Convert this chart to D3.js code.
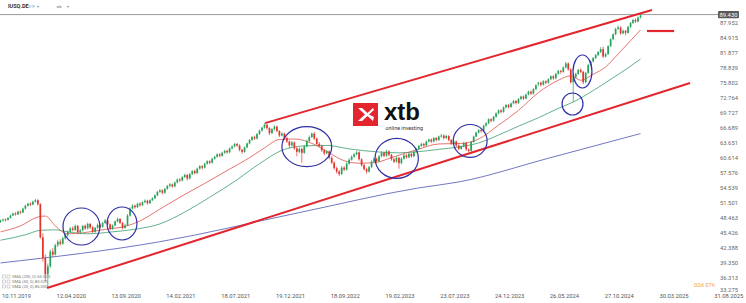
<!DOCTYPE html>
<html>
<head>
<meta charset="utf-8">
<script src="https://cdn.jsdelivr.net/npm/d3@7"></script>
<style>
html, body { margin: 0; padding: 0; background: #fff; }
svg { display: block; font-family: Roboto, "Liberation Sans", sans-serif; }
</style>
</head>
<body>
<svg id="chart" width="746" height="303"></svg>
<script>
// weekly candles [open, high, low, close]
var candles2019 = [
  [47.6,48.1,47.4,47.9],[47.9,48.3,47.7,48.1],[48.1,48.3,47.7,48.0],[48.0,48.6,47.9,48.4],
  [48.4,49.1,48.3,48.9],[48.9,49.5,48.8,49.3],[49.3,49.6,48.9,49.1],[49.1,49.9,49.0,49.7],
  [49.7,49.9,49.2,49.5]
];
var candles2020 = [
  [49.5,50.5,49.4,50.3],[50.3,51.1,50.1,50.9],[50.9,51.5,50.7,51.3],[51.3,51.6,50.8,51.1],
  [51.1,51.9,51.0,51.7],[51.7,52.3,51.5,52.0],[52.0,52.2,50.9,51.2],[51.2,51.4,44.2,44.5],
  [44.5,45.3,39.6,40.3],[40.3,41.0,35.6,37.0],[37.0,39.2,34.4,38.6],[38.6,42.0,38.3,41.6],
  [41.6,42.3,40.5,41.0],[41.0,43.2,40.8,42.9],[42.9,44.0,42.5,43.6],[43.6,44.1,42.8,43.2],
  [43.2,44.6,43.0,44.3],[44.3,45.2,44.0,44.9],[44.9,45.9,44.6,45.6],[45.6,46.6,45.4,46.3],
  [46.3,46.7,45.7,46.0],[46.0,47.1,45.8,46.8],[46.8,47.0,45.2,45.5],[45.5,46.2,45.1,45.9],
  [45.9,47.0,45.7,46.8],[46.8,47.1,46.0,46.3],[46.3,47.5,46.1,47.2],[47.2,47.4,46.2,46.5],
  [46.5,46.8,45.3,45.6],[45.6,46.6,45.4,46.4],[46.4,47.3,46.2,47.0],[47.0,47.2,46.3,46.6],
  [46.6,47.6,46.4,47.4],[47.4,48.2,47.2,47.9],[47.9,48.1,46.9,47.1],[47.1,47.3,45.9,46.2],
  [46.2,47.1,46.0,46.9],[46.9,47.9,46.7,47.7],[47.7,48.5,47.5,48.2],[48.2,48.4,47.2,47.4],
  [47.4,47.6,46.1,46.4],[46.4,47.2,46.2,46.9],[46.9,49.2,46.8,48.9],[48.9,50.6,48.7,50.3],
  [50.3,51.2,50.1,50.9],[50.9,51.1,50.3,50.6],[50.6,51.5,50.4,51.3],[51.3,51.6,50.7,51.0],
  [51.0,51.8,50.8,51.6],[51.6,52.2,51.4,51.9],[51.9,52.1,51.1,51.4],[51.4,52.2,51.2,52.0]
];
var candles2021 = [
  [52.0,52.6,51.8,52.4],[52.4,53.2,52.2,53.0],[53.0,53.9,52.8,53.7],[53.7,54.3,53.5,54.0],
  [54.0,54.2,53.2,53.5],[53.5,54.5,53.3,54.3],[54.3,55.1,54.1,54.9],[54.9,55.5,54.6,55.2],
  [55.2,55.4,54.5,54.8],[54.8,55.8,54.6,55.6],[55.6,56.4,55.4,56.2],[56.2,56.5,55.7,56.0],
  [56.0,56.9,55.8,56.7],[56.7,57.4,56.5,57.1],[57.1,57.3,56.0,56.4],[56.4,57.5,56.2,57.3],
  [57.3,58.1,57.1,57.9],[57.9,58.2,57.2,57.5],[57.5,58.6,57.3,58.4],[58.4,59.1,58.2,58.9],
  [58.9,59.1,58.2,58.6],[58.6,59.6,58.4,59.4],[59.4,60.1,59.2,59.9],[59.9,60.1,59.3,59.6],
  [59.6,60.6,59.4,60.4],[60.4,61.0,60.2,60.8],[60.8,61.5,60.6,61.3],[61.3,61.5,60.7,61.0],
  [61.0,61.8,60.8,61.6],[61.6,62.2,61.4,62.0],[62.0,62.2,61.4,61.7],[61.7,62.7,61.5,62.5],
  [62.5,63.1,62.3,62.9],[62.9,63.6,62.7,63.4],[63.4,63.6,62.8,63.1],[63.1,63.3,61.9,62.2],
  [62.2,62.4,61.4,61.8],[61.8,62.9,61.6,62.7],[62.7,63.7,62.5,63.5],[63.5,64.4,63.3,64.2],
  [64.2,65.0,64.0,64.8],[64.8,65.1,64.2,64.5],[64.5,65.6,64.3,65.4],[65.4,66.3,65.2,66.1],
  [66.1,66.9,65.9,66.7],[66.7,67.6,66.5,67.3],[67.3,67.5,66.3,66.6],[66.6,66.8,65.2,65.6],
  [65.6,66.6,65.4,66.4],[66.4,67.2,66.1,66.9],[66.9,67.1,65.8,66.0],[66.0,66.2,64.8,65.1]
];
var candles2022 = [
  [65.1,65.8,64.9,65.5],[65.5,65.7,64.3,64.6],[64.6,64.9,63.6,63.9],[63.9,64.1,62.6,63.1],
  [63.1,64.0,62.9,63.7],[63.7,63.9,62.2,62.5],[62.5,62.8,60.9,61.8],[61.8,62.7,61.5,62.4],
  [62.4,62.6,59.6,61.6],[61.6,63.2,61.4,62.9],[62.9,64.3,62.7,64.0],[64.0,65.1,63.8,64.8],
  [64.8,65.7,64.6,65.5],[65.5,65.8,64.2,64.5],[64.5,64.7,63.1,63.4],[63.4,63.8,62.7,63.0],
  [63.0,63.2,61.8,62.1],[62.1,62.4,61.1,61.5],[61.5,62.2,61.3,61.9],[61.9,62.1,60.3,60.6],
  [60.6,60.9,59.3,59.6],[59.6,59.9,58.2,58.5],[58.5,58.8,57.4,57.8],[57.8,58.1,56.9,57.3],
  [57.3,58.9,57.1,58.6],[58.6,58.9,57.9,58.2],[58.2,59.7,58.0,59.4],[59.4,60.5,59.2,60.2],
  [60.2,61.1,60.0,60.8],[60.8,61.6,60.6,61.3],[61.3,62.0,61.1,61.7],[61.7,61.9,60.0,60.3],
  [60.3,60.5,58.8,59.1],[59.1,59.4,58.0,58.3],[58.3,58.6,57.4,57.8],[57.8,59.0,57.6,58.7],
  [58.7,60.1,58.5,59.8],[59.8,60.7,59.6,60.4],[60.4,60.6,59.6,59.9],[59.9,61.2,59.7,60.9],
  [60.9,61.9,60.7,61.6],[61.6,61.8,60.7,61.0],[61.0,62.2,60.8,61.9],[61.9,62.1,60.9,61.2],
  [61.2,61.4,60.0,60.3],[60.3,60.6,59.5,59.8],[59.8,60.9,59.6,60.6],[60.6,60.8,58.4,59.5],
  [59.5,60.7,59.3,60.4],[60.4,61.4,60.2,61.1],[61.1,61.3,60.4,60.7],[60.7,61.7,60.5,61.4]
];
var candles2023 = [
  [61.4,61.6,60.6,60.9],[60.9,62.0,60.7,61.8],[61.8,62.6,61.6,62.4],[62.4,63.2,62.2,63.0],
  [63.0,63.6,62.8,63.4],[63.4,63.6,62.8,63.1],[63.1,64.1,62.9,63.9],[63.9,64.5,63.7,64.3],
  [64.3,64.5,63.6,63.9],[63.9,64.8,63.7,64.6],[64.6,64.8,63.9,64.2],[64.2,65.1,64.0,64.9],
  [64.9,65.4,64.7,65.1],[65.1,65.3,64.3,64.6],[64.6,65.3,64.4,65.0],[65.0,65.2,63.9,64.2],
  [64.2,64.4,63.2,63.5],[63.5,64.1,63.3,63.9],[63.9,64.1,62.8,63.1],[63.1,63.3,62.1,62.4],
  [62.4,63.1,62.2,62.9],[62.9,63.8,62.7,63.6],[63.6,63.8,62.0,62.3],[62.3,62.5,61.7,62.0],
  [62.0,64.0,61.8,63.8],[63.8,65.1,63.6,64.9],[64.9,65.9,64.7,65.7],[65.7,66.4,65.5,66.2],
  [66.2,66.4,65.7,66.0],[66.0,67.3,65.8,67.1],[67.1,67.8,66.9,67.6],[67.6,68.6,67.4,68.4],
  [68.4,68.6,67.8,68.1],[68.1,69.1,67.9,68.9],[68.9,69.8,68.7,69.6],[69.6,70.4,69.4,70.2],
  [70.2,70.4,69.6,69.9],[69.9,71.0,69.7,70.8],[70.8,71.5,70.6,71.3],[71.3,71.5,70.6,70.9],
  [70.9,71.8,70.7,71.6],[71.6,72.3,71.4,72.1],[72.1,72.3,71.4,71.7],[71.7,72.7,71.5,72.5],
  [72.5,73.2,72.3,73.0],[73.0,73.2,72.3,72.6],[72.6,73.6,72.4,73.4],[73.4,74.2,73.2,74.0],
  [74.0,74.2,73.3,73.6],[73.6,74.7,73.4,74.5],[74.5,75.5,74.3,75.3],[75.5,76.0,75.1,75.8]
];
var candles2024 = [
  [75.8,76.0,75.0,75.4],[75.4,76.3,75.2,76.1],[76.1,76.3,75.5,75.8],[75.8,76.7,75.6,76.5],
  [76.5,77.3,76.3,77.1],[77.1,77.3,76.4,76.7],[76.7,77.8,76.5,77.6],[77.6,78.4,77.4,78.2],
  [78.2,78.4,77.6,78.0],[78.0,79.1,77.8,78.9],[78.9,80.0,78.7,79.7],[79.7,79.9,78.2,78.5],
  [78.5,78.7,75.6,75.9],[75.9,77.1,71.9,76.9],[76.9,77.8,76.6,77.6],[77.6,78.6,77.4,78.4],
  [78.4,78.7,77.7,78.0],[78.0,78.2,75.5,75.9],[75.9,78.0,75.7,77.8],[77.8,79.6,77.6,79.4],
  [79.4,80.3,79.2,80.1],[80.1,81.0,79.9,80.8],[80.8,81.6,80.6,81.4],[81.4,82.2,81.2,82.0],
  [82.0,83.0,81.8,82.6],[82.6,83.1,80.8,81.1],[81.1,81.9,80.9,81.6],[81.6,83.4,81.4,83.2],
  [83.2,84.8,83.0,84.6],[84.6,85.8,84.4,85.6],[85.6,86.9,85.4,86.7],[86.7,87.4,86.5,87.0],
  [87.0,87.2,85.5,85.8],[85.8,86.6,85.6,86.3],[86.3,86.5,85.4,85.9],[85.9,87.3,85.7,87.1],
  [87.1,88.1,86.9,87.9],[87.9,88.7,87.7,88.5],[88.5,88.8,87.9,88.2],[88.2,89.2,88.0,89.0],
  [89.0,89.8,88.8,89.43]
];

// moving averages [bar index, value]
var smaFast = [[0,45.6],[8,46.8],[15,48.6],[18,48.8],[22,46.8],[27,45.2],[33,45.4],[42,46.1],[50,46.7],
  [56,47.8],[64,50.2],[72,52.6],[82,55.4],[92,58.3],[100,60.6],[106,62.6],[112,64.3],[118,64.4],
  [126,63.3],[132,61.6],[138,60.0],[144,59.5],[150,59.6],[158,60.8],[167,62.2],[176,63.4],
  [185,63.5],[192,64.4],[200,67.2],[208,70.2],[216,73.8],[224,76.3],[229,77.2],[233,76.3],
  [238,77.5],[243,79.0],[248,81.6],[253,84.3],[257,86.5]];
var smaMid = [[0,43.9],[10,45.0],[16,45.9],[22,46.0],[27,45.6],[35,45.2],[45,45.6],[55,46.2],
  [64,47.2],[74,49.6],[84,52.6],[94,55.8],[104,59.4],[113,62.1],[122,63.0],[131,63.1],[140,62.4],
  [151,61.8],[160,61.6],[167,61.8],[176,62.3],[184,62.8],[192,63.6],[200,65.2],[208,67.0],
  [216,68.7],[224,70.6],[230,71.9],[238,74.2],[246,76.8],[252,78.8],[257,80.6]];
var smaSlow = [[0,39.3],[64,43.6],[120,49.5],[168,54.5],[184,55.7],[220,60.5],[257,65.5]];

var yTicks = [87.952,84.915,81.877,78.839,75.802,72.764,69.727,66.689,63.651,60.614,57.576,
  54.539,51.501,48.463,45.426,42.388,39.350,36.313,33.275];
var dateLabels = ["10.11.2019","12.04.2020","13.09.2020","14.02.2021","18.07.2021","19.12.2021",
  "18.09.2022","19.02.2023","23.07.2023","24.12.2023","26.05.2024","27.10.2024","30.03.2025","31.08.2025"];
var lastPrice = 89.430;

// drawn annotations, in [bar, price] units
var channelUpper = [[106.2,67.62],[261.6,90.52]];
var channelLower = [[18.7,34.23],[276.9,75.74]];
var targetLine = [[259.6,86.27],[270.5,86.27]];
var circles = [[32.5,46.68,7.4,3.75],[48.8,47.29,6.0,3.34],[123,62.84,10,4.05],[159.1,60.49,8.7,4.05],
  [188.6,64.0,6.8,3.34],[233.7,78.07,3.8,3.34],[229.7,71.49,4.2,2.23]];
var legendRows = ["SMA (200, 0) 65.520","SMA (50, 0) 80.520","SMA (20, 0) 86.000"];

var candles = [].concat(candles2019, candles2020, candles2021, candles2022, candles2023, candles2024);

var svg = d3.select("#chart");
var x = d3.scaleLinear().domain([0, candles.length - 1]).range([0.5, 640.5]);
var y = d3.scaleLinear().domain([33.275, 87.952]).range([292.7, 22.7]);
var step = x(1) - x(0);

var up = "#27a35a", down = "#e2342d";

// header
svg.append("text").attr("x", 8).attr("y", 8).attr("font-size", 5.5).attr("font-weight", "bold")
  .attr("fill", "#333").text("IUSQ.DE");
svg.append("text").attr("x", 29).attr("y", 8).attr("font-size", 3.5).attr("fill", "#999").text("ETF");
svg.append("text").attr("x", 37).attr("y", 8).attr("font-size", 4).attr("fill", "#888").text("▾");
svg.append("text").attr("x", 56.5).attr("y", 8).attr("font-size", 4).attr("fill", "#666").text("wk");
svg.append("text").attr("x", 66.5).attr("y", 8).attr("font-size", 4).attr("fill", "#888").text("▾");

// last price line
svg.append("line").attr("x1", 0).attr("x2", 718).attr("y1", y(lastPrice) - 0.8).attr("y2", y(lastPrice) - 0.8)
  .attr("stroke", "#9a9a9a").attr("stroke-width", 1);

// y axis labels (lowest one nudged up above the date row, as in the reference)
svg.selectAll(".ytick").data(yTicks).enter().append("text")
  .attr("class", "ytick")
  .attr("x", 729).attr("y", function(d, i) { return y(d) + 2 - (i === yTicks.length - 1 ? 2.6 : 0); })
  .attr("text-anchor", "middle").attr("font-size", 5.8).attr("fill", "#666")
  .text(function(d) { return d3.format(".3f")(d); });

svg.append("rect").attr("x", 718).attr("y", y(lastPrice) - 4.4).attr("width", 21).attr("height", 7.2)
  .attr("rx", 1).attr("fill", "#5a5a5a");
svg.append("text").attr("x", 728.5).attr("y", y(lastPrice) + 1.2).attr("text-anchor", "middle")
  .attr("font-size", 5.8).attr("fill", "#fff").text(d3.format(".3f")(lastPrice));
svg.append("text").attr("x", 715).attr("y", 286.8).attr("text-anchor", "end")
  .attr("font-size", 5.8).attr("fill", "#f0a23c").text("02d 07h");

// date labels every 22 bars
svg.selectAll(".xtick").data(dateLabels).enter().append("text")
  .attr("class", "xtick")
  .attr("x", function(d, i) { return x(i * 22) + 1.5; }).attr("y", 297.8)
  .attr("font-size", 5.8).attr("fill", "#555")
  .text(function(d) { return d; });

// legend
var legend = svg.append("g").attr("font-size", 4.2).attr("fill", "#777");
legendRows.forEach(function(t, i) {
  var ly = 278 + i * 5;
  legend.append("rect").attr("x", 2.5).attr("y", ly - 3).attr("width", 3).attr("height", 3)
    .attr("fill", "none").attr("stroke", "#999").attr("stroke-width", 0.4);
  legend.append("rect").attr("x", 7).attr("y", ly - 3).attr("width", 3).attr("height", 3)
    .attr("fill", "none").attr("stroke", "#999").attr("stroke-width", 0.4);
  legend.append("text").attr("x", 12).attr("y", ly).text(t);
});

// xtb logo
var logo = svg.append("g");
logo.append("rect").attr("x", 353).attr("y", 103).attr("width", 25).attr("height", 23).attr("fill", "#e3262d");
logo.append("path").attr("d", "M358,108 L365,114.5 L358,121 L362,121 L367.5,116 L373,121 L374,117 L369,114.5 L374,110 L373,108 L367.5,113 L362,108 Z")
  .attr("fill", "#fff");
logo.append("text").attr("x", 384).attr("y", 120).attr("font-size", 24).attr("font-weight", "bold")
  .attr("font-family", "'Liberation Sans', Arial, sans-serif").attr("fill", "#111").text("xtb");
logo.append("text").attr("x", 385.5).attr("y", 129.5).attr("font-size", 5.4)
  .attr("fill", "#333").text("online investing");

// moving averages
var line = d3.line().x(function(d) { return x(d[0]); }).y(function(d) { return y(d[1]); })
  .curve(d3.curveMonotoneX);
[[smaSlow, "#4d55b0"], [smaMid, "#3a9d6e"], [smaFast, "#e0524b"]].forEach(function(s) {
  svg.append("path").attr("d", line(s[0])).attr("fill", "none")
    .attr("stroke", s[1]).attr("stroke-width", 0.8);
});

// candles
var c = svg.append("g").selectAll("g").data(candles).enter().append("g");
c.append("line")
  .attr("x1", function(d, i) { return x(i); }).attr("x2", function(d, i) { return x(i); })
  .attr("y1", function(d) { return y(d[1]); }).attr("y2", function(d) { return y(d[2]); })
  .attr("stroke", function(d) { return d[3] >= d[0] ? up : down; }).attr("stroke-width", 0.7);
c.append("rect")
  .attr("x", function(d, i) { return x(i) - 0.85; }).attr("width", 1.7)
  .attr("y", function(d) { return y(Math.max(d[0], d[3])); })
  .attr("height", function(d) { return Math.max(0.8, Math.abs(y(d[0]) - y(d[3]))); })
  .attr("fill", function(d) { return d[3] >= d[0] ? up : down; });

// channel and target
var straight = d3.line().x(function(d) { return x(d[0]); }).y(function(d) { return y(d[1]); });
[channelUpper, channelLower].forEach(function(l) {
  svg.append("path").attr("d", straight(l)).attr("stroke", "#e3262d").attr("stroke-width", 2).attr("fill", "none");
});
svg.append("path").attr("d", straight(targetLine)).attr("stroke", "#e3262d").attr("stroke-width", 2.2);

// circles
svg.selectAll(".ring").data(circles).enter().append("ellipse")
  .attr("class", "ring")
  .attr("cx", function(d) { return x(d[0]); }).attr("cy", function(d) { return y(d[1]); })
  .attr("rx", function(d) { return d[2] * step; })
  .attr("ry", function(d) { return y(d[1] - d[3]) - y(d[1]); })
  .attr("fill", "none").attr("stroke", "#2f2fa6").attr("stroke-width", 1.2);
</script>
</body>
</html>
